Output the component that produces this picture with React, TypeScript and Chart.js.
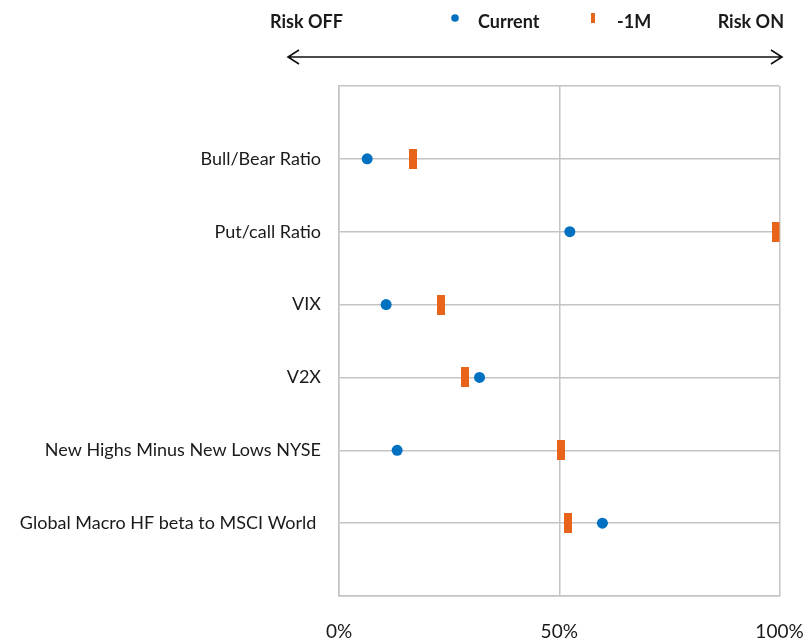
import { useEffect, useRef } from "react";
import { Chart, registerables } from "chart.js";

Chart.register(...registerables);

// Sentiment indicators, top to bottom
const indicators = [
  "Bull/Bear Ratio",
  "Put/call Ratio",
  "VIX",
  "V2X",
  "New Highs Minus New Lows NYSE",
  "Global Macro HF beta to MSCI World ",
];

// Percentile readings (0% = risk off, 100% = risk on)
const currentValues = [6.4, 52.4, 10.7, 31.9, 13.2, 59.8];
const monthAgoValues = [16.7, 99.1, 23.2, 28.5, 50.4, 52.0];

const xTicks = [0, 50, 100];
const seriesNames = ["Current", "-1M"];
const sideLabels = ["Risk OFF", "Risk ON"];

const BLUE = "#0070C0";
const ORANGE = "#E8641B";
const GRID = "#C4C4C4";
const TEXT = "#1a1a1a";
const FONT = "Lato, 'DejaVu Sans', sans-serif";

function barMarker(w: number, h: number, color: string) {
  const c = document.createElement("canvas");
  c.width = w;
  c.height = h;
  const g = c.getContext("2d")!;
  g.fillStyle = color;
  g.fillRect(0, 0, w, h);
  return c;
}

// Header: risk direction labels, double-headed arrow and the series key
const headerPlugin = {
  id: "riskHeader",
  afterDraw(chart: any) {
    const { ctx } = chart;
    const datasets = chart.data.datasets;
    ctx.save();
    ctx.fillStyle = TEXT;
    ctx.font = `bold 18px ${FONT}`;
    ctx.textBaseline = "alphabetic";
    ctx.textAlign = "left";
    ctx.fillText(sideLabels[0], 270, 28);
    ctx.textAlign = "right";
    ctx.fillText(sideLabels[1], 784, 28);

    // arrow
    const ay = 57;
    const x0 = 288;
    const x1 = 782;
    ctx.strokeStyle = "#111";
    ctx.lineWidth = 1.6;
    ctx.beginPath();
    ctx.moveTo(x0, ay);
    ctx.lineTo(x1, ay);
    ctx.moveTo(x0 + 11, ay - 7);
    ctx.lineTo(x0, ay);
    ctx.lineTo(x0 + 11, ay + 7);
    ctx.moveTo(x1 - 11, ay - 7);
    ctx.lineTo(x1, ay);
    ctx.lineTo(x1 - 11, ay + 7);
    ctx.stroke();

    // key
    ctx.textAlign = "left";
    ctx.fillStyle = datasets[0].backgroundColor;
    ctx.beginPath();
    ctx.arc(455, 18, 3.8, 0, Math.PI * 2);
    ctx.fill();
    ctx.fillStyle = TEXT;
    ctx.fillText(datasets[0].label, 478, 28);

    ctx.fillStyle = datasets[1].backgroundColor;
    ctx.fillRect(591, 13, 4, 10);
    ctx.fillStyle = TEXT;
    ctx.fillText(datasets[1].label, 617, 28);
    ctx.restore();
  },
};

export default function App() {
  const canvasRef = useRef<HTMLCanvasElement | null>(null);

  useEffect(() => {
    if (!canvasRef.current) return;
    const rectMarker = barMarker(8, 20, ORANGE);

    const chart = new Chart(canvasRef.current, {
      type: "scatter",
      data: {
        datasets: [
          {
            label: seriesNames[0],
            data: currentValues.map((v, i) => ({ x: v, y: i + 1 })),
            backgroundColor: BLUE,
            borderColor: BLUE,
            pointStyle: "circle",
            pointRadius: 5.5,
            pointBorderWidth: 0,
          },
          {
            label: seriesNames[1],
            data: monthAgoValues.map((v, i) => ({ x: v, y: i + 1 })),
            backgroundColor: ORANGE,
            borderColor: ORANGE,
            pointStyle: rectMarker as any,
            pointRadius: 10,
          },
        ],
      },
      options: {
        animation: false,
        responsive: true,
        maintainAspectRatio: false,
        layout: { padding: { top: 86, left: 0, right: 24.5, bottom: 0 } },
        plugins: {
          legend: { display: false },
          tooltip: { enabled: false },
        },
        scales: {
          x: {
            type: "linear",
            min: 0,
            max: 100,
            afterBuildTicks: (s: any) => {
              s.ticks = xTicks.map((v) => ({ value: v }));
            },
            afterFit: (s: any) => {
              s.height = 46;
              s.paddingLeft = 0;
              s.paddingRight = 0;
            },
            ticks: {
              callback: (v: any) => `${v}%`,
              font: { family: FONT, size: 19 },
              color: TEXT,
              padding: 24,
              maxRotation: 0,
            },
            grid: { color: GRID, lineWidth: 1.5, drawTicks: false },
            border: { color: GRID, width: 1.5 },
          },
          y: {
            type: "linear",
            min: 0,
            max: indicators.length + 1,
            reverse: true,
            afterBuildTicks: (s: any) => {
              s.ticks = Array.from({ length: indicators.length + 2 }, (_, i) => ({ value: i }));
            },
            afterFit: (s: any) => {
              s.width = 339;
              s.paddingTop = 0;
              s.paddingBottom = 0;
            },
            ticks: {
              callback: (v: any) => indicators[Number(v) - 1] ?? "",
              font: { family: FONT, size: 18 },
              color: TEXT,
              padding: 18,
              autoSkip: false,
            },
            grid: { color: GRID, lineWidth: 1.5, drawTicks: false },
            border: { color: GRID, width: 1.5 },
          },
        },
      },
      plugins: [headerPlugin],
    });
    return () => chart.destroy();
  }, []);

  return (
    <div style={{ position: "fixed", left: 0, top: 0, width: 804, height: 642, background: "#fff" }}>
      <canvas ref={canvasRef} />
    </div>
  );
}
